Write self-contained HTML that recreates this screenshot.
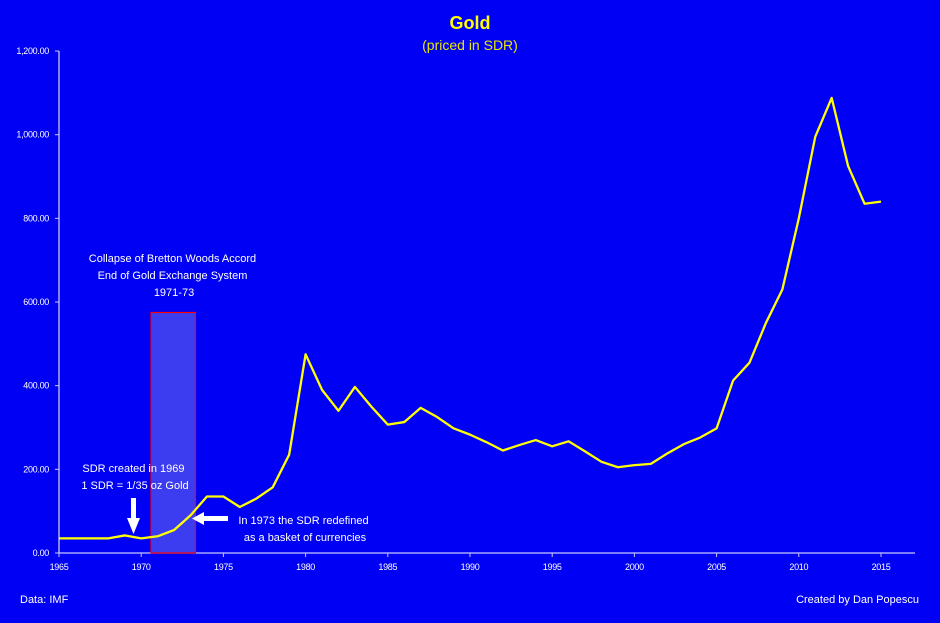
<!DOCTYPE html>
<html><head><meta charset="utf-8"><style>
body{margin:0;background:#0000f5;}
svg{display:block;font-family:"Liberation Sans",sans-serif;}
</style></head><body>
<svg id="chart" width="940" height="623">
<rect width="940" height="623" fill="#0000f5"/>
<text x="470" y="29" fill="#ffff00" font-size="18" font-weight="bold" text-anchor="middle">Gold</text>
<text x="470" y="50" fill="#e8e800" font-size="14" text-anchor="middle">(priced in SDR)</text>
<g id="axes"></g>
<rect id="band" fill="#3c3cf0" stroke="#ff0000" stroke-width="1.2"/>
<polyline id="line" fill="none" stroke="#ffff00" stroke-width="2.3" stroke-linejoin="round"/>
<text font-size="11" fill="#fff" text-anchor="middle">
<tspan x="174" y="262">Collapse of Bretton Woods Accord</tspan>
<tspan x="174" y="279">End of Gold Exchange System</tspan>
<tspan x="174" y="296">1971-73</tspan></text>
<text font-size="11" fill="#fff" text-anchor="middle">
<tspan x="135" y="472">SDR created in 1969</tspan>
<tspan x="135" y="489">1 SDR = 1/35 oz Gold</tspan></text>
<rect x="131" y="498" width="5" height="20" fill="#fff"/>
<polygon points="127,518 140,518 133.5,534" fill="#fff"/>
<rect x="204" y="516" width="24" height="5" fill="#fff"/>
<polygon points="204,512 204,525 192,518.5" fill="#fff"/>
<text font-size="11" fill="#fff" text-anchor="middle">
<tspan x="305" y="524">In 1973 the SDR redefined</tspan>
<tspan x="305" y="541">as a basket of currencies</tspan></text>
<text x="20" y="603" font-size="11" fill="#fff">Data: IMF</text>
<text x="919" y="603" font-size="11" fill="#fff" text-anchor="end">Created by Dan Popescu</text>
</svg>
<script>
const years=[1965,1966,1967,1968,1969,1970,1971,1972,1973,1974,1975,1976,1977,1978,1979,1980,1981,1982,1983,1984,1985,1986,1987,1988,1989,1990,1991,1992,1993,1994,1995,1996,1997,1998,1999,2000,2001,2002,2003,2004,2005,2006,2007,2008,2009,2010,2011,2012,2013,2014,2015];
const prices=[35,35,35,35,42,35,40,55,90,135,135,110,130,157,235,475,390,340,397,350,307,313,347,325,298,283,265,245,258,270,255,267,243,218,205,210,213,238,260,276,298,412,455,550,630,800,995,1088,925,835,840];
const yTicks=[0,200,400,600,800,1000,1200];
const yTickLabels=["0.00","200.00","400.00","600.00","800.00","1,000.00","1,200.00"];
const xTicks=[1965,1970,1975,1980,1985,1990,1995,2000,2005,2010,2015];
const band=[1970.6,1973.3,575];
const X=y=>59+(y-1965)*16.44, Y=v=>553-v*0.4183;
const NS="http://www.w3.org/2000/svg";
const ax=document.getElementById('axes');
function mk(t,a,p){const e=document.createElementNS(NS,t);for(const k in a)e.setAttribute(k,a[k]);(p||ax).appendChild(e);return e;}
let e=mk('line',{x1:59,y1:51,x2:59,y2:553,stroke:'#c8c8ff','stroke-width':1.3});


e=mk('line',{x1:59,y1:553,x2:915,y2:553,stroke:'#c8c8ff','stroke-width':1.3});


yTicks.forEach((v,i)=>{
 mk('line',{x1:55,x2:59,y1:Y(v),y2:Y(v),stroke:'#c8c8ff'});
 const t=mk('text',{x:49,y:Y(v)+3,fill:'#fff','font-size':9,'text-anchor':'end','letter-spacing':'-0.3'});
 t.textContent=yTickLabels[i];
 
 
});
xTicks.forEach(v=>{
 mk('line',{x1:X(v),x2:X(v),y1:553,y2:557,stroke:'#c8c8ff'});
 const t=mk('text',{x:X(v),y:570,fill:'#fff','font-size':9,'text-anchor':'middle','letter-spacing':'-0.3'});
 t.textContent=v;
 
 
});
const b=document.getElementById('band');
b.setAttribute('x',X(band[0]));b.setAttribute('width',X(band[1])-X(band[0]));
b.setAttribute('y',Y(band[2]));b.setAttribute('height',Y(0)-Y(band[2]));
document.getElementById('line').setAttribute('points',years.map((y,i)=>X(y)+','+Y(prices[i])).join(' '));
</script>
</body></html>
